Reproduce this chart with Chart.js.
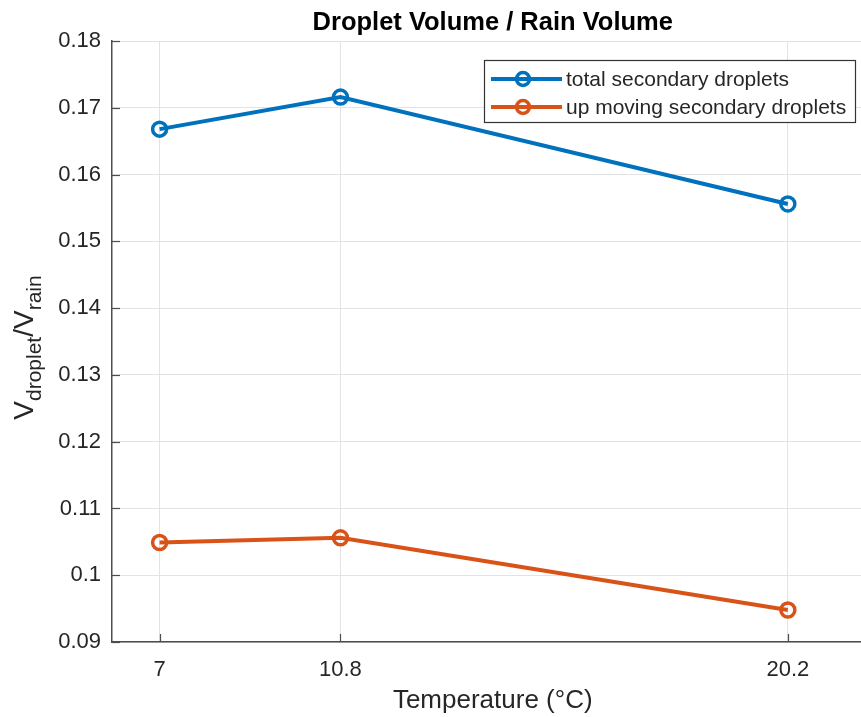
<!DOCTYPE html>
<html>
<head>
<meta charset="utf-8">
<script src="https://cdn.jsdelivr.net/npm/chart.js@4"></script>
<style>
  html, body { margin: 0; padding: 0; overflow: hidden; background: #fff; }
  canvas { display: block; }
</style>
</head>
<body>
<canvas id="chart" width="884" height="717"></canvas>
<script>
// Temperature (°C) on the x axis
const temperatures = [7, 10.8, 20.2];
// V_droplet / V_rain
const totalDroplets = [0.1668, 0.1716, 0.1556];
const upMovingDroplets = [0.1049, 0.1056, 0.0948];
const yTickValues = [0.09, 0.1, 0.11, 0.12, 0.13, 0.14, 0.15, 0.16, 0.17, 0.18];
const seriesNames = ['total secondary droplets', 'up moving secondary droplets'];
const chartTitle = 'Droplet Volume / Rain Volume';
const xTitle = 'Temperature (\u00B0C)';

const FONT = '"Liberation Sans", Arial, sans-serif';
const TEXT = '#262626';
const AXIS = '#4d4d4d';
const GRID = '#e3e3e3';

function toPoints(vals) {
  return temperatures.map((t, i) => ({ x: t, y: vals[i] }));
}

// title, y label with subscripts, inside ticks and legend box
const decorPlugin = {
  id: 'decor',
  afterDraw(chart) {
    const { ctx, chartArea: a, scales } = chart;
    ctx.save();

    // inside tick marks
    ctx.strokeStyle = AXIS;
    ctx.lineWidth = 1.2;
    scales.x.ticks.forEach(t => {
      const px = Math.round(scales.x.getPixelForValue(t.value)) + 0.5;
      ctx.beginPath();
      ctx.moveTo(px, a.bottom);
      ctx.lineTo(px, a.bottom - 8);
      ctx.stroke();
    });
    scales.y.ticks.forEach(t => {
      const py = Math.round(scales.y.getPixelForValue(t.value)) + 0.5;
      ctx.beginPath();
      ctx.moveTo(a.left, py);
      ctx.lineTo(a.left + 8, py);
      ctx.stroke();
    });

    // title
    ctx.fillStyle = '#000';
    ctx.font = 'bold 25.5px ' + FONT;
    ctx.textAlign = 'center';
    ctx.textBaseline = 'middle';
    ctx.fillText(chartTitle, (a.left + a.right) / 2, 23);

    // y axis label: V_droplet / V_rain
    const big = '28px ' + FONT, small = '21px ' + FONT;
    const parts = [
      { t: 'V', f: big, dy: 0 },
      { t: 'droplet', f: small, dy: 8 },
      { t: '/V', f: big, dy: 0 },
      { t: 'rain', f: small, dy: 8 }
    ];
    let total = 0;
    parts.forEach(p => { ctx.font = p.f; p.w = ctx.measureText(p.t).width; total += p.w; });
    ctx.translate(33, (a.top + a.bottom) / 2 + 6);
    ctx.rotate(-Math.PI / 2);
    ctx.fillStyle = TEXT;
    ctx.textAlign = 'left';
    ctx.textBaseline = 'alphabetic';
    let x = -total / 2;
    parts.forEach(p => { ctx.font = p.f; ctx.fillText(p.t, x, p.dy); x += p.w; });
    ctx.setTransform(1, 0, 0, 1, 0, 0);

    // legend
    const lx = 484, ly = 60, lw = 371, lh = 62;
    ctx.fillStyle = '#fff';
    ctx.fillRect(lx, ly, lw, lh);
    ctx.strokeStyle = '#333';
    ctx.lineWidth = 1.2;
    ctx.strokeRect(lx + 0.5, ly + 0.5, lw, lh);
    chart.data.datasets.forEach((ds, i) => {
      const yy = ly + 19 + i * 28;
      ctx.strokeStyle = ds.borderColor;
      ctx.lineWidth = 4;
      ctx.beginPath();
      ctx.moveTo(lx + 7, yy);
      ctx.lineTo(lx + 78, yy);
      ctx.stroke();
      ctx.lineWidth = 3.5;
      ctx.beginPath();
      ctx.arc(lx + 39, yy, 6.5, 0, Math.PI * 2);
      ctx.stroke();
      ctx.fillStyle = TEXT;
      ctx.font = '21px ' + FONT;
      ctx.textAlign = 'left';
      ctx.textBaseline = 'middle';
      ctx.fillText(ds.label, lx + 82, yy + 1);
    });
    ctx.restore();
  }
};

new Chart(document.getElementById('chart'), {
  type: 'line',
  data: {
    datasets: [
      {
        label: seriesNames[0],
        data: toPoints(totalDroplets),
        borderColor: '#0072BD',
        borderWidth: 4,
        pointRadius: 7,
        pointBorderWidth: 3.5,
        pointBackgroundColor: 'rgba(0,0,0,0)',
        pointBorderColor: '#0072BD',
        tension: 0
      },
      {
        label: seriesNames[1],
        data: toPoints(upMovingDroplets),
        borderColor: '#D95319',
        borderWidth: 4,
        pointRadius: 7,
        pointBorderWidth: 3.5,
        pointBackgroundColor: 'rgba(0,0,0,0)',
        pointBorderColor: '#D95319',
        tension: 0
      }
    ]
  },
  options: {
    responsive: false,
    animation: false,
    layout: { padding: { top: 41, right: 0, left: 0, bottom: 0 } },
    plugins: { legend: { display: false }, title: { display: false }, tooltip: { enabled: false } },
    scales: {
      x: {
        type: 'linear',
        min: 6,
        max: 22,
        afterBuildTicks(scale) { scale.ticks = temperatures.map(v => ({ value: v })); },
        afterFit(scale) { scale.height = 75; },
        ticks: {
          color: TEXT,
          font: { family: FONT, size: 22 },
          padding: 15,
          maxRotation: 0,
          callback: v => String(v)
        },
        grid: { color: GRID, lineWidth: 1, tickLength: 0, drawTicks: false },
        border: { color: AXIS, width: 1.5 },
        title: {
          display: true,
          text: xTitle,
          color: TEXT,
          font: { family: FONT, size: 26 },
          padding: { top: 0, bottom: 1 }
        }
      },
      y: {
        min: 0.09,
        max: 0.18,
        afterBuildTicks(scale) { scale.ticks = yTickValues.map(v => ({ value: v })); },
        afterFit(scale) { scale.width = 112; },
        ticks: {
          color: TEXT,
          font: { family: FONT, size: 22 },
          padding: 11,
          callback: v => String(Number(v.toFixed(2)))
        },
        grid: { color: GRID, lineWidth: 1, drawTicks: false },
        border: { color: AXIS, width: 1.5 }
      }
    }
  },
  plugins: [decorPlugin]
});
</script>
</body>
</html>
